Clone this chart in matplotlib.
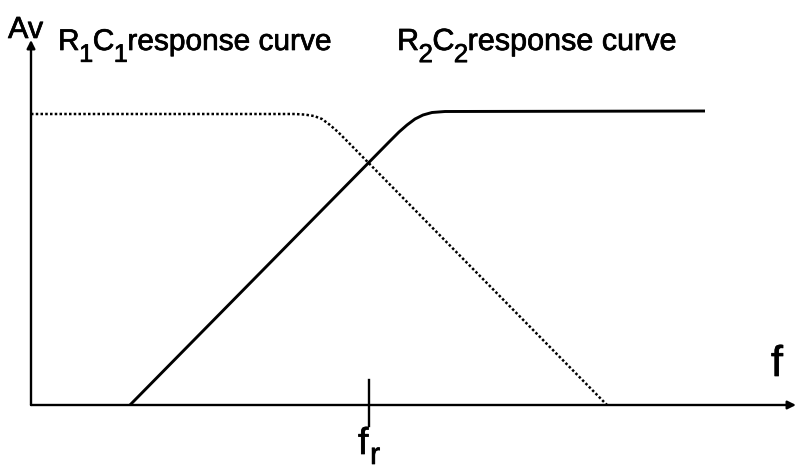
import matplotlib.pyplot as plt
import matplotlib.patheffects as pe

plt.rcParams['font.family'] = ['Liberation Sans', 'DejaVu Sans']

# --- curve data (picture units, y grows downward) ---
r1c1_f  = [31, 295, 305, 314, 322, 330, 338, 346, 607]
r1c1_av = [114, 114, 114.6, 116, 119, 125, 132, 140, 405]

r2c2_f  = [130, 390, 399, 407, 415, 423, 432, 445, 705]
r2c2_av = [405, 141, 132, 125, 119, 115, 112.5, 111.5, 111]

origin = (31, 405)
x_end = 796
y_top = 40
fr_pos = 369

fig = plt.figure(figsize=(7.96, 4.71), dpi=100)
ax = fig.add_axes([0, 0, 1, 1])
ax.set_xlim(0, 796)
ax.set_ylim(471, 0)
ax.axis('off')

ink = [pe.withStroke(linewidth=0.5, foreground='black')]

# axes with arrows
ax.annotate('', xy=(x_end, origin[1]), xytext=origin,
            arrowprops=dict(arrowstyle='-|>', color='black', lw=1.7,
                            mutation_scale=12, shrinkA=0, shrinkB=0))
ax.annotate('', xy=(origin[0], y_top), xytext=origin,
            arrowprops=dict(arrowstyle='-|>', color='black', lw=1.7,
                            mutation_scale=12, shrinkA=0, shrinkB=0))

# response curves
ax.plot(r1c1_f, r1c1_av, color='black', lw=1.8, linestyle=(0, (1, 0.9)))
ax.plot(r2c2_f, r2c2_av, color='black', lw=2.1, solid_capstyle='butt')

# f_r marker
ax.plot([fr_pos, fr_pos], [380, 426], color='black', lw=1.7)

renderer = fig.canvas.get_renderer()


def chain(x, y, pieces, size):
    # pieces: (text, is_subscript)
    for txt, sub in pieces:
        fs = size * 0.85 if sub else size
        yy = y + size * 0.55 if sub else y
        t = ax.text(x, yy, txt, fontsize=fs, ha='left', va='baseline',
                    path_effects=ink)
        bb = t.get_window_extent(renderer).transformed(ax.transData.inverted())
        x = max(bb.x0, bb.x1) - 0.5


ax.text(8, 38, 'Av', fontsize=22, ha='left', va='baseline', path_effects=ink)
chain(58, 50, [('R', False), ('1', True), ('C', False), ('1', True),
               ('response curve', False)], 21.5)
chain(397, 50, [('R', False), ('2', True), ('C', False), ('2', True),
                ('response curve', False)], 22)
ax.text(771, 376, 'f', fontsize=31, ha='left', va='baseline', path_effects=ink)
ax.text(358, 454, 'f', fontsize=27, ha='left', va='baseline', path_effects=ink)
ax.text(370, 464, 'r', fontsize=22, ha='left', va='baseline', path_effects=ink)

fig.savefig('out.png', dpi=100, facecolor='white')
